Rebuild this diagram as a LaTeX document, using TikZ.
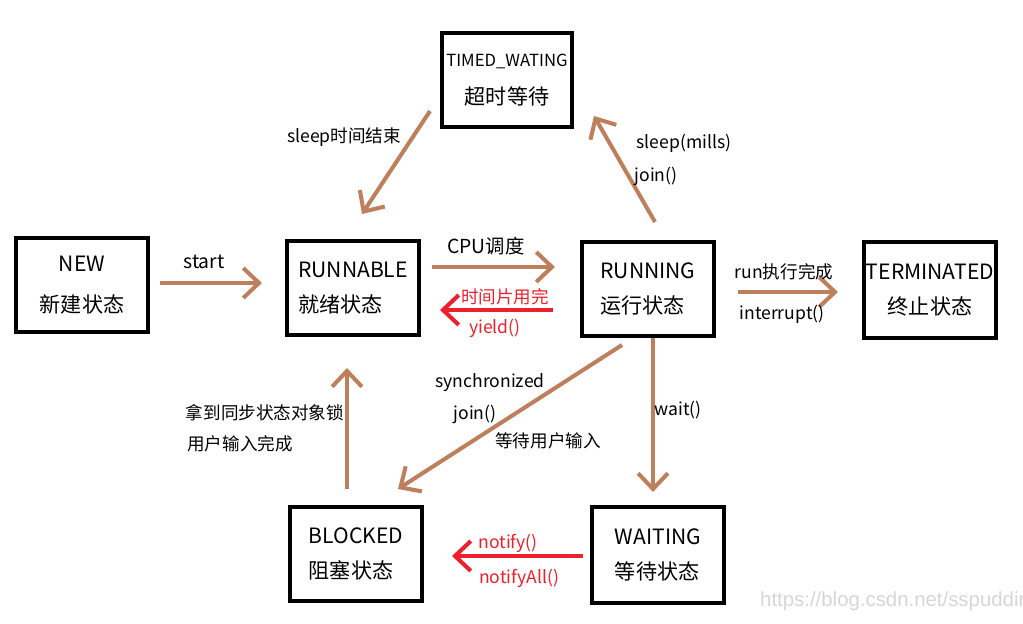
\documentclass[tikz,border=0pt]{standalone}
\usepackage{fontspec}
\setmainfont{Noto Sans CJK SC}
\newfontfamily\markfont{Liberation Sans}
\usepackage{xcolor}
\usepackage{tikz}
\usetikzlibrary{calc,arrows.meta}
\definecolor{arrowbrown}{RGB}{190,128,92}
\definecolor{arrowred}{RGB}{238,32,44}

\begin{document}
\begin{tikzpicture}[x=0.02cm,y=-0.02cm,
	state/.style={draw,line width=2.3pt,minimum width=2.64cm,minimum height=1.88cm,inner sep=0pt,align=left,font=\fontsize{12}{20}\selectfont},
	lbl/.style={font=\fontsize{10}{12}\selectfont,inner sep=0pt},
	redlbl/.style={lbl,text=arrowred},
	flow/.style={draw=arrowbrown,line width=2.3pt,-{Straight Barb[length=9pt,width=17pt]}},
	back/.style={flow,draw=arrowred}]
	\useasboundingbox (0,0) rectangle (1023,624);
	% the seven states
	\node[state,align=center] (new) at (82,285) {NEW\\[3pt]新建状态};
	\node[state] (runnable) at (353,288) {RUNNABLE\\就绪状态};
	\node[state] (running) at (648,289) {RUNNING\\运行状态};
	\node[state,align=center,minimum height=1.92cm] (terminated) at (930,290) {TERMINATED\\终止状态};
	\node[state,align=center,minimum width=2.6cm] (timed) at (507,80) {{\fontsize{9.5}{12}\selectfont TIMED\_WATING}\\[2pt]超时等待};
	\node[state] (blocked) at (356,554) {BLOCKED\\阻塞状态};
	\node[state,minimum height=1.92cm] (waiting) at (658,555) {WAITING\\等待状态};
	% transitions
	\draw[flow] ($(new.east)+(10,-2)$) -- ($(runnable.west)+(-23,-5)$);
	\node[lbl,font=\fontsize{11}{12}\selectfont] (start) at (204,262) {start};
	\draw[flow] ($(runnable.east)+(11,-21)$) -- ($(running.west)+(-25,-22)$);
	\node[lbl,font=\fontsize{11}{12}\selectfont] (cpu) at (486,246) {CPU调度};
	\draw[back] ($(running.west)+(-27,21)$) -- ($(runnable.east)+(19,22)$);
	\node[redlbl] (slice) at (505,297) {时间片用完};
	\node[redlbl] (yield) at (495,328) {yield()};
	\draw[flow] ($(running.east)+(22,3)$) -- ($(terminated.west)+(-24,2)$);
	\node[lbl] (done) at (784,272) {run执行完成};
	\node[lbl] (interrupt) at (782,314) {interrupt()};
	\draw[flow] ($(timed.south west)+(-10,-18)$) -- ($(runnable.north)+(9,-25)$);
	\node[lbl] (wake) at (344,137) {sleep时间结束};
	\draw[flow] ($(running.north)+(7,-18)$) -- ($(timed.south east)+(20,-13)$);
	\node[lbl] (sleep) at (684,143) {sleep(mills)};
	\node[lbl] (join1) at (656,176) {join()};
	\draw[flow] ($(running.south)+(-26,7)$) -- ($(blocked.north)+(42,-16)$);
	\node[lbl] (sync) at (490,383) {synchronized};
	\node[lbl] (join2) at (475,414) {join()};
	\node[lbl] (input) at (548,441) {等待用户输入};
	\draw[flow] ($(running.south)+(5,0)$) -- ($(waiting.north)+(-5,-13)$);
	\node[lbl] (wait) at (678,410) {wait()};
	\draw[flow] ($(blocked.north)+(-9,-16)$) -- ($(runnable.south)+(-6,31)$);
	\node[lbl] (lock) at (265,413) {拿到同步状态对象锁};
	\node[lbl,anchor=west] (inputdone) at (187,444) {用户输入完成};
	\draw[back] ($(waiting.west)+(-7,1)$) -- ($(blocked.east)+(28,2)$);
	\node[redlbl] (notify) at (508,543) {notify()};
	\node[redlbl] (notifyall) at (519,578) {notifyAll()};
	\node[anchor=west,text=black!16,font=\markfont\fontsize{11.6}{14}\selectfont] (mark) at (754,601) {https://blog.csdn.net/sspuddir};
\end{tikzpicture}
\end{document}
